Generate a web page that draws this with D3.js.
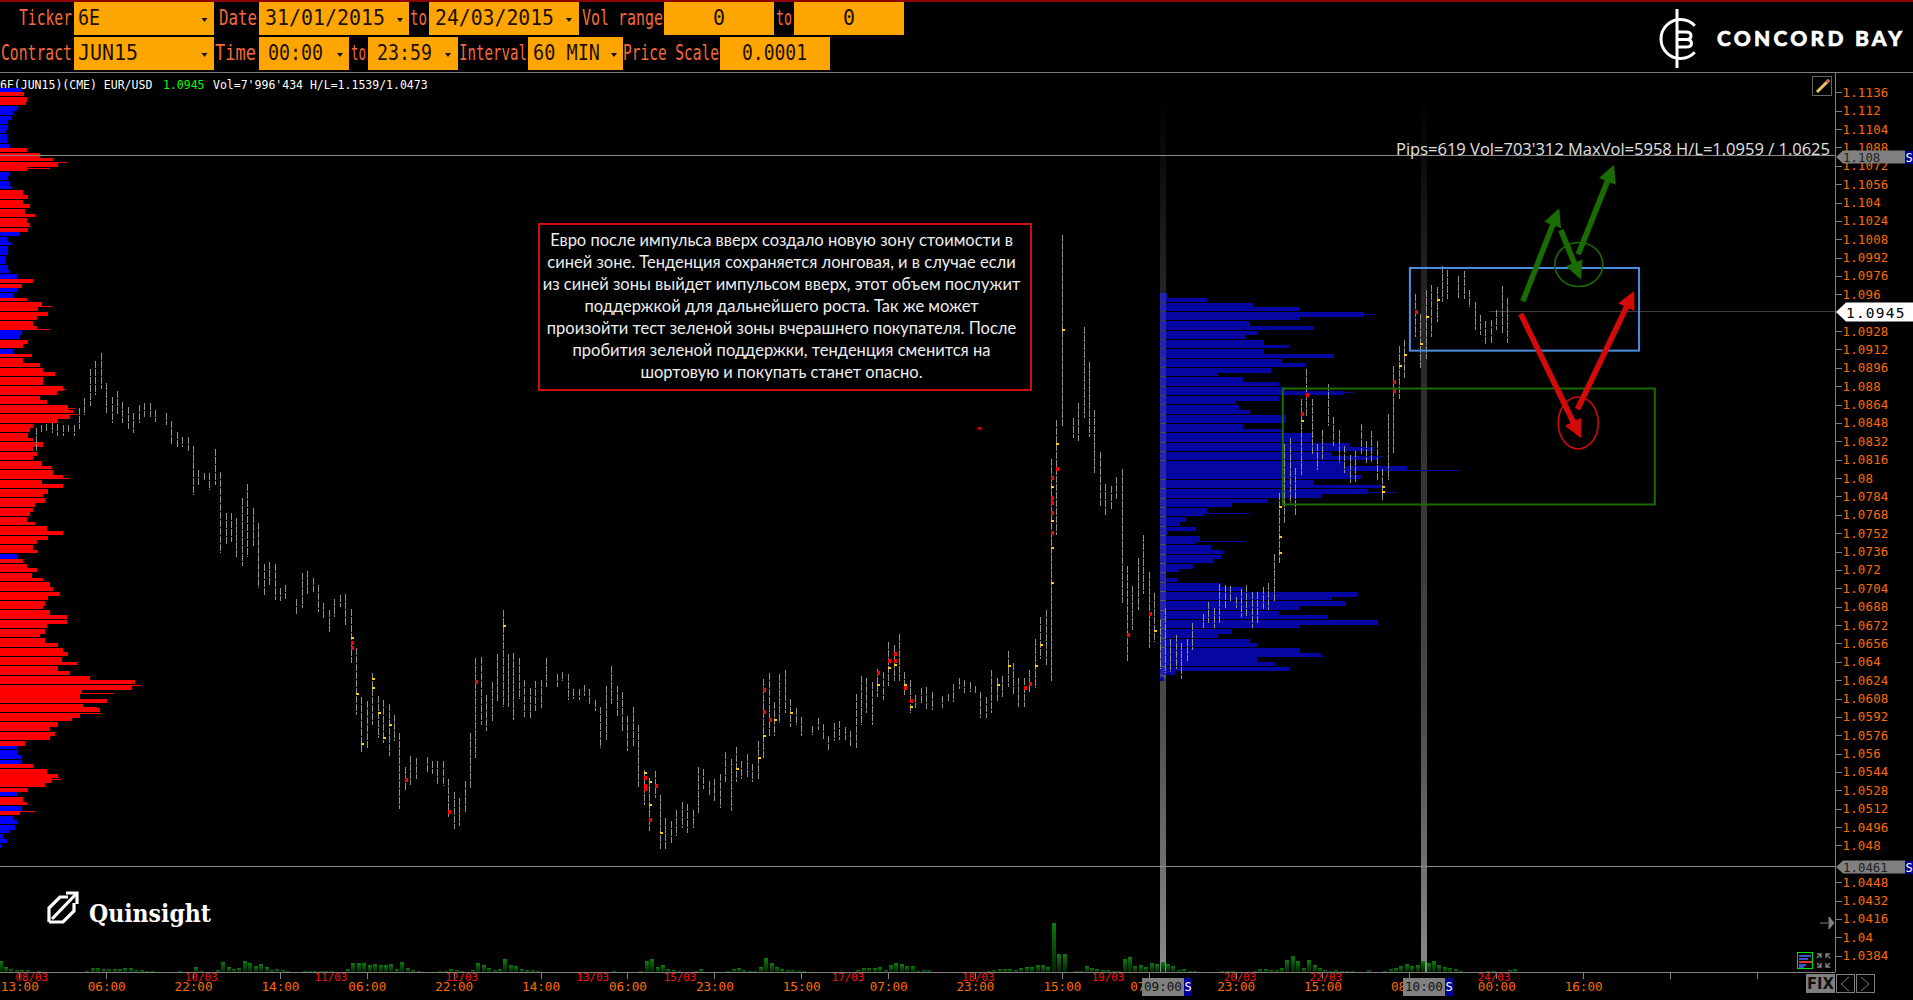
<!DOCTYPE html>
<html><head><meta charset="utf-8">
<style>html,body{margin:0;padding:0;background:#000;overflow:hidden}svg{display:block}</style>
<script src="https://cdnjs.cloudflare.com/ajax/libs/d3/7.8.5/d3.min.js"></script>
</head><body><svg id="c" width="1913" height="1000"></svg>
<script>
// ---------- DATA (prices in pips: 10945 = 1.0945; one slot = one hour of session time) ----------
const priceTicks=["1.1136","1.112","1.1104","1.1088","1.1072","1.1056","1.104","1.1024","1.1008","1.0992","1.0976","1.096","1.0928","1.0912","1.0896","1.088","1.0864","1.0848","1.0832","1.0816","1.08","1.0784","1.0768","1.0752","1.0736","1.072","1.0704","1.0688","1.0672","1.0656","1.064","1.0624","1.0608","1.0592","1.0576","1.056","1.0544","1.0528","1.0512","1.0496","1.048","1.0448","1.0432","1.0416","1.04","1.0384"];
const timeLabels=["13:00","06:00","22:00","14:00","06:00","22:00","14:00","06:00","23:00","15:00","07:00","23:00","15:00","07:00","23:00","15:00","08:00","00:00","16:00","",""];
const dateLabels=["08/03","10/03","11/03","12/03","13/03","15/03","17/03","18/03","19/03","20/03","22/03","24/03"];
const dateSlots=[5.3,36.5,60.4,84.5,108.6,124.7,155.6,179.6,203.5,227.8,243.6,274.6];
const firstBarSlot=6;
const barHigh=[10844,10846,10847,10848,10847,10846,10846,10846,10861,10870,10895,10902,10909,10883,10871,10876,10866,10862,10857,10864,10865,10865,10859,null,10857,10850,10840,10836,10836,10828,10807,10804,10804,10825,10805,10770,10770,10765,10783,10795,10774,10761,10725,10727,10725,10704,10707,null,10695,10717,10719,10713,10707,10691,10685,10695,10698,10699,10686,10652,10609,10606,10630,10610,10607,10603,10594,10578,10548,10558,10556,null,10557,10554,10554,10554,10538,10527,10521,10536,10578,10643,10644,10611,10622,10647,10685,10647,10648,10643,10624,10617,10623,10624,10643,null,10629,10631,10629,10616,10616,10620,10616,10607,10601,10619,10636,10619,10614,10593,10601,10585,10546,10539,10545,10524,10504,10501,10511,10518,10516,10511,10548,10547,10536,10538,10542,10561,10555,10566,10554,10560,10551,10571,10625,10630,10605,10629,10633,10608,10600,10592,null,10584,10591,10586,10575,10587,10588,10583,10580,10612,10628,10626,10622,10634,10631,10657,10655,10664,10631,10624,10611,10617,10618,10614,null,10610,10612,10621,10626,10624,10622,10619,10614,10609,10633,10626,10628,10649,10639,10626,10626,10633,10660,10679,10685,10817,10851,11012,null,10852,10865,10932,10901,10859,10823,10795,10793,10801,10808,10723,10706,10730,10750,10718,10700,10676,10687,10660,10663,10656,10660,10674,null,10682,10692,10687,10708,10707,10706,10696,10703,10707,10701,10701,10705,10709,10734,10787,10830,10835,10809,10869,10895,10869,10830,10842,10882,10853,10842,10828,10820,10824,10847,10832,10841,10832,10808,10856,10898,10915,10920,10950,10960,10943,10964,10968,10966,10985,10981,null,10976,10980,10964,10953,10942,10937,10938,10946,10967,10957];
const barLow=[10824,10839,10841,10839,10837,10837,10839,10837,10843,10855,10863,10872,10878,10857,10848,10856,10848,10843,10839,10848,10853,10853,10849,null,10846,10830,10826,10827,10824,10785,10794,10798,10790,10794,10735,10743,10744,10731,10723,10731,10741,10704,10698,10707,10694,10693,10695,null,10682,10687,10698,10701,10683,10677,10666,10679,10688,10672,10639,10594,10561,10565,10585,10574,10569,10558,10571,10512,10528,10533,10538,null,10544,10542,10533,10532,10505,10494,10497,10509,10529,10556,10585,10580,10588,10605,10601,10601,10589,10608,10592,10591,10597,10600,10618,null,10618,10623,10607,10608,10607,10610,10602,10597,10565,10572,10603,10593,10579,10562,10566,10531,10515,10493,10521,10477,10477,10482,10488,10495,10491,10495,10508,10529,10524,10519,10513,10535,10510,10535,10538,10540,10535,10538,10555,10575,10575,10587,10595,10583,10585,10575,null,10576,10581,10572,10563,10571,10572,10572,10566,10565,10585,10595,10585,10609,10607,10619,10623,10622,10610,10595,10600,10603,10599,10598,null,10600,10605,10605,10616,10613,10614,10612,10591,10591,10595,10605,10609,10618,10612,10601,10601,10614,10617,10642,10637,10623,10750,10845,null,10835,10832,10852,10836,10804,10776,10768,10772,10782,10691,10641,10668,10685,10699,10652,10657,10634,10630,10631,10634,10625,10641,10650,null,10669,10674,10669,10674,10687,10693,10687,10679,10679,10669,10673,10686,10685,10693,10726,10760,10778,10767,10803,10853,10821,10807,10817,10845,10828,10813,10804,10796,10797,10821,10813,10813,10798,10781,10798,10821,10869,10887,10920,10923,10896,10904,10923,10936,10953,10956,null,10957,10956,10949,10929,10925,10916,10918,10929,10926,10918];
const hotSlots=[64,64,64,92,87,66,68,68,74,82,118,118,118,118,119,119,119,120,121,139,140,140,140,141,142,135,70,65,69,71,145,163,163,164,164,164,161,161,166,166,167,167,185,183,189,188,191,190,193,193,193,193,193,193,193,193,193,194,194,195,207,211,212,235,235,235,239,239,240,254,254,256,256,257,258,260,262,264,261];
const hotPrices=[10661,10656,10652,10671,10622,10568,10617,10625,10537,10509,10543,10539,10532,10529,10535,10515,10502,10532,10491,10556,10575,10615,10596,10589,10589,10547,10574,10612,10595,10585,10595,10641,10635,10647,10641,10637,10630,10620,10620,10617,10606,10601,10636,10620,10621,10617,10655,10636,10800,10792,10783,10778,10770,10763,10752,10739,10709,10830,10808,10929,10663,10682,10667,10775,10749,10735,10856,10850,10872,10792,10788,10884,10876,10898,10907,10945,10940,10955,10917];
const hotRed=[0,1,1,0,1,0,0,0,1,1,0,1,1,1,0,0,1,1,0,0,0,1,1,1,0,0,0,0,0,0,0,1,0,1,1,0,1,0,0,1,1,0,0,0,1,1,0,0,1,0,1,1,1,0,1,0,0,0,1,0,1,1,0,0,0,0,1,0,1,0,0,1,1,0,0,1,0,0,0];
const volume={};
const volSeg=[[0,[33,14,10,6,6,6,0,3]],[16,[3,12,12,10,10,9,9,12,12,7,6,3,3]],[33,[3]],[36,[14,3]],[40,[5,30,14,10,12,33,27,18,24,14,6,9,6,3]],[56,[3,3,3,3,3,3]],[64,[9,27,27,27,21,24,21,21,24,9,30,12,6,3]],[81,[3,3,9,6,3]],[87,[6,27,21,12,6,9,38,21,18,9,6,6,3]],[113,[3]],[118,[3,32,39,14,20,9,6,3]],[128,[3,9]],[134,[3,9,12,6,3,3,14,42,26,14,8,6,6,3,3]],[158,[6,12,12,12,14,6,21,26,23,18,18,3,6,6]],[182,[3,6,9,9,9,6,12,14,14,21,21,14,147,54,54,0,3,3,18,12,9,6,6,3,3,39,44,18,21,15,27,24,30,24,18,6,9,3,3]],[225,[3,3,3]],[231,[3,9,9,6,6,12,36,48,33,12,36,21,12,6,3,6,3,3,3]],[252,[6]],[255,[3,9,12,18,24,18,21,33,27,33,21,15,12,9,3]],[274,[3,3]],[278,[6,9]]];
const leftVol=[65,72,80,78,50,40,35,25,25,18,20,20,30,80,120,160,175,80,30,25,30,35,70,85,70,90,75,105,80,90,85,60,20,35,25,25,15,15,25,30,50,100,65,55,40,80,125,115,145,110,100,110,65,60,85,70,40,95,70,120,130,165,130,130,190,170,120,140,205,220,210,175,100,90,85,100,130,100,110,100,125,155,160,190,125,190,145,130,135,105,100,90,80,105,140,190,145,110,100,115,55,70,80,110,95,130,150,160,180,145,135,130,150,200,200,140,135,120,135,175,190,205,185,230,175,210,270,405,395,245,240,320,250,300,240,215,175,150,165,150,75,50,50,65,65,100,140,175,155,135,85,50,70,80,65,60,40,55,45,30,10,20,5];
const leftBlueRows=[0,4,5,6,7,8,9,10,11,12,18,19,20,21,31,32,33,34,35,36,37,38,39,40,43,44,52,53,56,100,141,142,143,144,151,154,156,157,158,159,160,161,162];
const leftSpikePrice=[11075,11070,10950,10930,10878,10861,10856,10800,10638,10623,10620,10613,10601,10600,10595,10540,10538,10510];
const leftSpikeVol=[200,150,155,150,197,225,230,207,233,312,423,342,290,297,303,177,185,105];
const rightVol=[156,936,1858,2779,4055,2779,1787,3063,1928,1716,2070,2567,2070,3453,2425,2886,2212,1149,1645,2354,2496,3630,2354,1503,1574,1787,2496,2496,1645,2425,3063,2992,3772,4233,3417,4304,3630,4906,3772,3985,3063,4410,4126,3205,2141,1432,936,865,510,404,723,156,794,723,1007,1255,1219,1078,652,369,121,333,1219,1645,3914,3417,3701,2779,2354,3346,4339,2779,1432,1149,1787,1928,2779,3205,1928,2283,2567,298,85];
const rightSpikePrice=[10807,10943,10875,10819,10788,10770,10745,10700,10691,10673,10645,10634];
const rightSpikeVol=[5958,4268,3843,4446,4694,1787,1645,3949,3701,4375,3240,2567];
const noteLines=["Евро после импульса вверх создало новую зону стоимости в","синей зоне. Тенденция сохраняется лонговая, и в случае если","из синей зоны выйдет импульсом вверх, этот объем послужит","поддержкой для дальнейшего роста. Так же может","произойти тест зеленой зоны вчерашнего покупателя. После","пробития зеленой поддержки, тенденция сменится на","шортовую и покупать станет опасно."];
// zone annotations in chart units: [slot0, slot1, pipsTop, pipsBottom]
const blueZone=[259.1,301.3,10983,10911], greenZone=[235.7,304.2,10878,10777];
const greenArrows=[[279.9,10954,286.6,11035],[286.9,11016,290.6,10973],[290.1,10995,296.7,11073]];
const redArrows=[[279.5,10943,290.6,10835],[289.96,10860,300.4,10963]];
const HEAD={labels1:[["Ticker",19,53],["Date",219,38],["to",410,17],["Vol range",582,81],["to",776,16]],
 labels2:[["Contract",1,71],["Time",215,41],["to",351,15],["Interval",459,68],["Price Scale",623,96]],
 boxes1:[[74,214],[259,409],[429,579],[664,774],[794,904]],boxes2:[[74,214],[259,349],[368,458],[528,623],[720,830]],
 vals1:[["6E",78,22],["31/01/2015",265,120],["24/03/2015",435,119],["0",713,12],["0",843,12]],
 vals2:[["JUN15",78,60],["00:00",268,55],["23:59",377,55],["60 MIN",533,67],["0.0001",742,65]],
 arrows1:[204.5,400,569],arrows2:[204.5,340,448,614]};

// ---------- SCALES ----------
const svg=d3.select("#c");
svg.append("rect").attr("width",1913).attr("height",1000).attr("fill","#000");
const y=d3.scaleLinear().domain([1.0384,1.1136]).range([955.7,92.3]);
const py=p=>y(p/10000);
const x=d3.scaleLinear().domain([0,100]).range([3,546]);
const vx=d3.scaleLinear().domain([0,100]).range([0.5,543.5]);
const leftW=d3.scaleLinear().domain([0,423]).range([0,141]);
const rightW=d3.scaleLinear().domain([0,5958]).range([0,300]);
const volH=d3.scaleLinear().domain([0,147]).range([0,49]);
const mono="'DejaVu Sans Mono',monospace";
const crisp=s=>s.attr("shape-rendering","crispEdges");
const defs=svg.append("defs");
const g1=defs.append("linearGradient").attr("id","strip").attr("x1",0).attr("x2",0).attr("y1",0).attr("y2",1);
[[0,"#000"],[.2,"#222"],[.7,"#4a4a4a"],[1,"#8a8a8a"]].forEach(s=>g1.append("stop").attr("offset",s[0]).attr("stop-color",s[1]));
const g2=defs.append("linearGradient").attr("id","vol").attr("x1",0).attr("x2",0).attr("y1",0).attr("y2",1);
[[0,"#0e7a0e"],[1,"#022402"]].forEach(s=>g2.append("stop").attr("offset",s[0]).attr("stop-color",s[1]));

// ---------- TOP ----------
crisp(svg.append("rect").attr("x",0).attr("y",0).attr("width",1913).attr("height",2).attr("fill","#8b0000"));
function txt(s,X,W,base,fill){svg.append("text").attr("x",X).attr("y",base).attr("font-family",mono).attr("font-size",21.5).attr("fill",fill).attr("textLength",W).attr("lengthAdjust","spacingAndGlyphs").text(s);}
function row(h,t,labels,boxes,vals,arr,base){
 boxes.forEach(b=>crisp(svg.append("rect").attr("x",b[0]).attr("y",t).attr("width",b[1]-b[0]).attr("height",h).attr("fill","#ffa500")));
 labels.forEach(l=>txt(l[0],l[1],l[2],base,"#f4693a"));
 vals.forEach(l=>txt(l[0],l[1],l[2],base,"#1a1000"));
 arr.forEach(a=>svg.append("path").attr("d",`M${a-3},${t+16}h6l-3,4z`).attr("fill","#111"));
}
row(33,2,HEAD.labels1,HEAD.boxes1,HEAD.vals1,HEAD.arrows1,25);
row(33,37,HEAD.labels2,HEAD.boxes2,HEAD.vals2,HEAD.arrows2,60);
crisp(svg.append("line").attr("x1",0).attr("x2",1913).attr("y1",72.5).attr("y2",72.5).attr("stroke","#808080"));
const info=svg.append("text").attr("y",88.5).attr("font-family",mono).attr("font-size",11.5);
info.append("tspan").attr("x",0).attr("fill","#fff").text("6E(JUN15)(CME) EUR/USD");
info.append("tspan").attr("x",163).attr("fill","#00ff00").text("1.0945");
info.append("tspan").attr("x",213).attr("fill","#fff").text("Vol=7'996'434 H/L=1.1539/1.0473");
// Concord Bay logo
const lg=svg.append("g").attr("fill","none").attr("stroke","#fff").attr("stroke-width",3);
const arc=d3.path();arc.arc(1680.5,39,19.5,-0.75,0.75,true);lg.append("path").attr("d",arc.toString());
lg.append("line").attr("x1",1677).attr("x2",1677).attr("y1",9).attr("y2",68);
lg.append("path").attr("d","M1677,32h9q5,0,5,3.7t-5,3.8h-9M1686,39.5q5.5,0,5.5,3.7t-5.5,3.8h-9");
svg.append("text").attr("x",1717).attr("y",46).attr("font-family","Lato,sans-serif").attr("font-weight",900).attr("font-size",21).attr("fill","#fff").attr("stroke","#fff").attr("stroke-width",.6).attr("textLength",185).text("CONCORD BAY");

// ---------- STRIPS & REFERENCE LINES ----------
const strips=[[1160,1166],[1421,1427]];
strips.forEach(s=>svg.append("rect").attr("x",s[0]).attr("y",98).attr("width",s[1]-s[0]).attr("height",874).attr("fill","url(#strip)"));

// ---------- PROFILES ----------
const rowP=(start,i)=>start-4.065*i;
const rowY=(start,i)=>Math.round(py(rowP(start,i))-2.3);
const rowH=(start,i)=>rowY(start,i+1)-rowY(start,i)-(i%2?1:0);
const leftBlue=new Set(leftBlueRows);
crisp(svg.append("g").selectAll("rect").data(leftVol).join("rect").attr("x",0).attr("y",(d,i)=>rowY(11138,i)).attr("height",(d,i)=>rowH(11138,i)).attr("width",d=>leftW(d)).attr("fill",(d,i)=>leftBlue.has(i)?"#0000ff":"#ff0000"));
crisp(svg.append("g").selectAll("rect").data(leftSpikePrice).join("rect").attr("x",0).attr("y",d=>py(d)).attr("height",1).attr("width",(d,i)=>leftW(leftSpikeVol[i])).attr("fill","#ff0000"));
const R0=1160;
crisp(svg.append("g").selectAll("rect").data(rightVol).join("rect").attr("x",R0).attr("y",(d,i)=>rowY(10959,i)).attr("height",(d,i)=>rowH(10959,i)).attr("width",d=>rightW(d)).attr("fill","#0606a2"));
crisp(svg.append("g").selectAll("rect").data(rightSpikePrice).join("rect").attr("x",R0).attr("y",d=>py(d)).attr("height",1).attr("width",(d,i)=>rightW(rightSpikeVol[i])).attr("fill","#0606a2"));
svg.append("rect").attr("x",1160).attr("y",293).attr("width",6).attr("height",385).attr("fill","#fff").attr("opacity",.12);
[155.5,866.5].forEach(v=>crisp(svg.append("line").attr("x1",0).attr("x2",1835).attr("y1",v).attr("y2",v).attr("stroke","#8a8a8a")));
crisp(svg.append("line").attr("x1",1489).attr("x2",1836).attr("y1",py(10945)).attr("y2",py(10945)).attr("stroke","#3c3c3c"));

// ---------- VOLUME ----------
volSeg.forEach(s=>s[1].forEach((v,k)=>{if(v>0)volume[s[0]+k]=v;}));
const vols=Object.keys(volume).map(k=>[+k,volume[k]]);
crisp(svg.append("g").selectAll("rect").data(vols).join("rect").attr("x",d=>vx(d[0])-2).attr("width",4).attr("y",d=>972-volH(d[1])).attr("height",d=>volH(d[1])).attr("fill","url(#vol)"));

// ---------- PRICE BARS ----------
const bars=barHigh.map((h,i)=>({slot:firstBarSlot+i,h,l:barLow[i]})).filter(d=>d.h!=null);
crisp(svg.append("g").selectAll("line").data(bars).join("line").attr("x1",d=>Math.round(x(d.slot))+.5).attr("x2",d=>Math.round(x(d.slot))+.5).attr("y1",d=>py(d.h)).attr("y2",d=>py(d.l)).attr("stroke","#909090").attr("stroke-width",1).attr("stroke-dasharray","7,1"));
crisp(svg.append("g").selectAll("rect").data(hotSlots).join("rect").attr("x",d=>Math.round(x(d))).attr("y",(d,i)=>py(hotPrices[i])-(hotRed[i]?2:1)).attr("width",(d,i)=>hotRed[i]?3:3).attr("height",(d,i)=>hotRed[i]?4:2).attr("fill",(d,i)=>hotRed[i]?"#ff0000":"#ffcc00"));
crisp(svg.append("rect").attr("x",x(179.7)-1).attr("y",py(10844)-1).attr("width",3).attr("height",3).attr("fill","#d00000"));

// ---------- AXES ----------
const yAxis=svg.append("g").attr("transform","translate(1835.5,0)").call(d3.axisRight(y).tickValues(priceTicks.map(Number)).tickFormat(v=>String(+v.toFixed(4))).tickSize(6).tickPadding(1));
yAxis.selectAll("path,line").attr("stroke","#808080").attr("shape-rendering","crispEdges");
yAxis.select(".domain").attr("d","M0,72V972");
yAxis.selectAll("text").attr("fill","#ff6a00").attr("font-family",mono).attr("font-size",12.4).attr("letter-spacing",.2);
const tickSlots=timeLabels.map((d,i)=>3+16*i);
const xAxis=svg.append("g").attr("transform","translate(0,972.5)").call(d3.axisBottom(x).tickValues(tickSlots).tickFormat((d,i)=>timeLabels[i]).tickSize(6));
xAxis.selectAll("path,line").attr("stroke","#808080").attr("shape-rendering","crispEdges");
xAxis.select(".domain").attr("d","M0,0H1835");
xAxis.selectAll("text").attr("fill","#ff6a00").attr("font-family",mono).attr("font-size",12.6).attr("y",18).attr("dy",0);
svg.append("g").selectAll("text").data(dateLabels).join("text").attr("x",(d,i)=>x(dateSlots[i])).attr("y",981).attr("text-anchor","middle").attr("font-family",mono).attr("font-size",10.8).attr("fill","#ff1010").text(d=>d);

// tags on axes
function priceTag(v,label,pips){
 const Y=Math.round(py(pips));
 svg.append("path").attr("d",`M1836,${Y}l7,-6.5h62v13h-62z`).attr("fill","#808080");
 crisp(svg.append("rect").attr("x",1905).attr("y",Y-6.5).attr("width",8).attr("height",13).attr("fill","#00009a"));
 svg.append("text").attr("x",1843).attr("y",Y+4.5).attr("font-family",mono).attr("font-size",12.4).attr("fill","#222").text(label);
 svg.append("text").attr("x",1905.5).attr("y",Y+4.5).attr("font-family",mono).attr("font-size",12).attr("fill","#fff").text("S");
}
priceTag(0,"1.108",11080);priceTag(0,"1.0461",10461);
const tagY=Math.round(py(10945));
svg.append("path").attr("d",`M1836,${tagY}l10,-9.5h67v19h-67z`).attr("fill","#fff");
svg.append("text").attr("x",1846).attr("y",tagY+5.5).attr("font-family",mono).attr("font-size",14.5).attr("letter-spacing",1.2).attr("fill","#000").text("1.0945");
function timeTag(X,label){
 crisp(svg.append("rect").attr("x",X).attr("y",978).attr("width",42).attr("height",18).attr("fill","#808080"));
 crisp(svg.append("rect").attr("x",X+42).attr("y",978).attr("width",8).attr("height",18).attr("fill","#00009a"));
 svg.append("text").attr("x",X+2).attr("y",991).attr("font-family",mono).attr("font-size",12.6).attr("fill","#111").text(label);
 svg.append("text").attr("x",X+42.5).attr("y",991).attr("font-family",mono).attr("font-size",12).attr("fill","#fff").text("S");
}
timeTag(1142,"09:00");timeTag(1403,"10:00");

// ---------- ANNOTATIONS ----------
svg.append("text").attr("x",1396).attr("y",155).attr("font-family","'Open Sans',sans-serif").attr("font-size",16).attr("fill","#e0e0e0").attr("textLength",434).attr("lengthAdjust","spacingAndGlyphs").text("Pips=619 Vol=703'312 MaxVol=5958 H/L=1.0959 / 1.0625");
function zone(z,color){svg.append("rect").attr("x",x(z[0])).attr("y",py(z[2])).attr("width",x(z[1])-x(z[0])).attr("height",py(z[3])-py(z[2])).attr("fill","none").attr("stroke",color).attr("stroke-width",2);}
zone(blueZone,"#4a8fe0");zone(greenZone,"#1a6b00");
function arrow(a,color){
 const X0=x(a[0]),Y0=py(a[1]),X1=x(a[2]),Y1=py(a[3]);
 const ang=Math.atan2(Y1-Y0,X1-X0),L=Math.hypot(X1-X0,Y1-Y0),hl=20,hw=9,sw=2.8;
 const g=svg.append("g").attr("transform",`translate(${X0},${Y0}) rotate(${ang*180/Math.PI})`);
 g.append("path").attr("d",`M0,${-sw}H${L-hl+2}V${-hw}L${L},0L${L-hl+2},${hw}V${sw}H0Z`).attr("fill",color);
}
function ell(cs,cp,rx,ry,color){svg.append("ellipse").attr("cx",x(cs)).attr("cy",py(cp)).attr("rx",rx).attr("ry",ry).attr("fill","none").attr("stroke",color).attr("stroke-width",1.6);}
ell(290.2,10986,24,22,"#1a6b00");ell(290.1,10848,20,26,"#d40a0a");
greenArrows.forEach(a=>arrow(a,"#1a6b00"));redArrows.forEach(a=>arrow(a,"#d40a0a"));
svg.append("rect").attr("x",539).attr("y",224).attr("width",492).attr("height",166).attr("fill","#000").attr("stroke","#cc0f0f").attr("stroke-width",2);
svg.append("g").selectAll("text").data(noteLines).join("text").attr("x",781.5).attr("y",(d,i)=>246+22*i).attr("text-anchor","middle").attr("font-family","Lato,sans-serif").attr("font-size",16.5).attr("fill","#eee").text(d=>d);

// Quinsight logo
const q=svg.append("g").attr("fill","none").attr("stroke","#fff").attr("stroke-width",3.2);
q.append("path").attr("d","M49,922V908l11,-11h8M49,922h14l11,-11V903M52,919L76,894");
q.append("path").attr("d","M66,893h11v11");
svg.append("text").attr("x",89).attr("y",922).attr("font-family","'DejaVu Serif',serif").attr("font-weight",700).attr("font-size",25).attr("fill","#fff").attr("textLength",122).attr("lengthAdjust","spacingAndGlyphs").text("Quinsight");

// Controls
crisp(svg.append("rect").attr("x",1812.5).attr("y",76.5).attr("width",19).attr("height",19).attr("fill","none").attr("stroke","#666"));
svg.append("path").attr("d","M1817,92l12,-12").attr("stroke","#e8c860").attr("stroke-width",3);
svg.append("path").attr("d","M1826.5,82.5l2.5,-2.5").attr("stroke","#d06060").attr("stroke-width",3);
svg.append("path").attr("d","M1820,923h8M1829,917l5,6l-5,6z").attr("stroke","#808080").attr("fill","#808080");
crisp(svg.append("rect").attr("x",1806).attr("y",974).attr("width",29).attr("height",19).attr("fill","#808080"));
svg.append("text").attr("x",1820.5).attr("y",989).attr("text-anchor","middle").attr("font-family","'DejaVu Sans',sans-serif").attr("font-weight",700).attr("font-size",16).attr("fill","#111").attr("textLength",27).attr("lengthAdjust","spacingAndGlyphs").text("FIX");
[1836,1856].forEach((X,i)=>{crisp(svg.append("rect").attr("x",X+.5).attr("y",974.5).attr("width",18).attr("height",18).attr("fill","none").attr("stroke","#808080"));
 svg.append("path").attr("d",i?`M${X+5},977l8,7l-8,7`:`M${X+13},977l-8,7l8,7`).attr("fill","none").attr("stroke","#808080");});
crisp(svg.append("rect").attr("x",1797).attr("y",952.5).attr("width",15.5).attr("height",16).attr("fill","#000").attr("stroke","#00e000"));
[[955,12,"#4050d0"],[958,9,"#4050d0"],[961,13,"#e03030"],[964,7,"#4050d0"],[966,5,"#4050d0"]].forEach(r=>crisp(svg.append("rect").attr("x",1799).attr("y",r[0]).attr("width",r[1]).attr("height",2).attr("fill",r[2])));
svg.append("path").attr("d","M1817,958l4,-4M1817,954h4v4M1830,958l-4,-4M1830,954h-4v4M1817,963l4,4M1817,967h4v-4M1830,963l-4,4M1830,967h-4v-4").attr("stroke","#808080").attr("fill","none").attr("stroke-width",1.4);
</script></body></html>
